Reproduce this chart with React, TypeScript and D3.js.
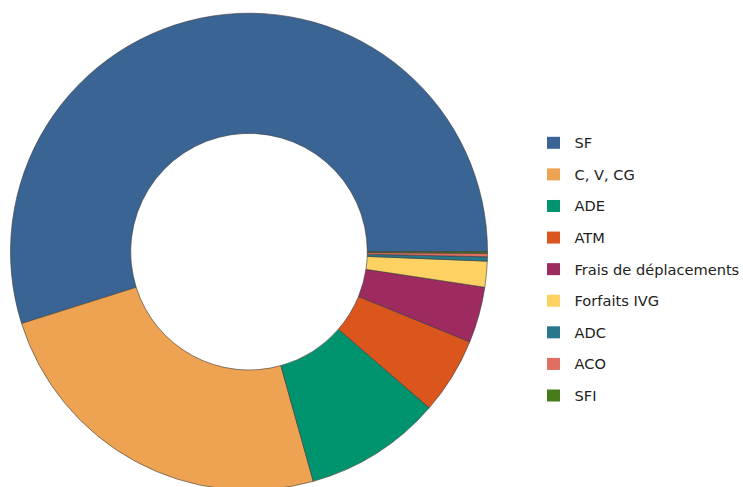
import React from "react";
import * as d3 from "d3";

const categories = ["SF", "C, V, CG", "ADE", "ATM", "Frais de déplacements", "Forfaits IVG", "ADC", "ACO", "SFI"];
const values = [54.86, 24.47, 9.29, 5.19, 3.79, 1.75, 0.29, 0.23, 0.11];
const colors = ["#3a6494", "#eea353", "#00946e", "#da561d", "#9e2b5f", "#fed163", "#28778a", "#de6f62", "#477a18"];

const W = 743;
const H = 487;
const cx = 249;
const cy = 251.7;
const R = 238.5;
const r0 = 118.3;

export default function App() {
  const pie = d3
    .pie<number>()
    .sort(null)
    .startAngle(Math.PI / 2)
    .endAngle(Math.PI / 2 - 2 * Math.PI)
    .value((d) => d);
  const arcs = pie(values);
  const arc = d3.arc<d3.PieArcDatum<number>>().innerRadius(r0).outerRadius(R);

  const legendY = d3.scalePoint<string>().domain(categories).range([142.8, 395.5]);

  return (
    <div style={{ position: "absolute", left: 0, top: 0 }}>
      <svg width={W} height={H} style={{ display: "block" }}>
        <rect width={W} height={H} fill="#ffffff" />
        <g transform={`translate(${cx},${cy})`}>
          {arcs.map((a, i) => (
            <path key={i} d={arc(a) || ""} fill={colors[i]} stroke="#3a3a3a" strokeWidth={0.6} />
          ))}
        </g>
        <g fontFamily="DejaVu Sans, sans-serif" fontSize={14.6} fill="#222222">
          {categories.map((c, i) => (
            <g key={c} transform={`translate(0,${legendY(c)})`}>
              <rect x={547} y={-6} width={13} height={12} fill={colors[i]} />
              <text x={574.5} y={0} dominantBaseline="central">
                {c}
              </text>
            </g>
          ))}
        </g>
      </svg>
    </div>
  );
}
